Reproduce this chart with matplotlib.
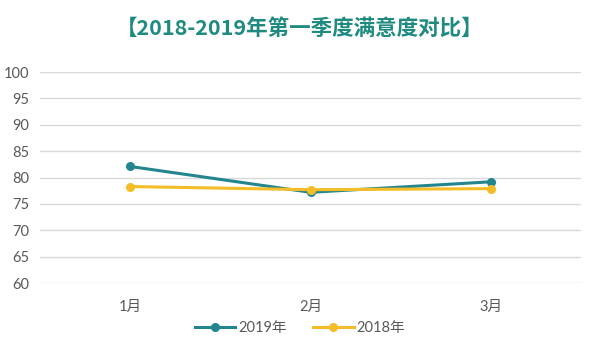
import matplotlib
matplotlib.use('Agg')
import matplotlib.pyplot as plt

plt.rcParams['font.family'] = ['Lato', 'Noto Sans CJK SC', 'DejaVu Sans']

months = ['1月', '2月', '3月']
y2019 = [82.1, 77.2, 79.2]
y2018 = [78.3, 77.7, 77.9]
yticks = [60, 65, 70, 75, 80, 85, 90, 95, 100]

teal = '#23868f'
gold = '#f4bd27'
grey = '#595959'

fig = plt.figure(figsize=(6, 3.53), dpi=100)
ax = fig.add_axes([0.0667, 0.198, 0.902, 0.598])

x = range(len(months))
ax.plot(x, y2019, color=teal, lw=2.2, marker='o', ms=5.5, label='2019年', zorder=3)
ax.plot(x, y2018, color=gold, lw=2.2, marker='o', ms=5.5, label='2018年', zorder=3)

ax.set_xlim(-0.5, 2.5)
ax.set_ylim(60, 100)
ax.set_yticks(yticks)
ax.set_xticks(list(x))
ax.set_xticklabels(months)
ax.grid(axis='y', color='#d9d9d9', lw=1)
ax.set_axisbelow(True)
for s in ax.spines.values():
    s.set_visible(False)
ax.tick_params(length=0, colors=grey, labelsize=10.5)
ax.tick_params(axis='x', pad=12)
ax.tick_params(axis='y', pad=8)

fig.text(0.5, 0.918, '【2018-2019年第一季度满意度对比】', ha='center', va='center',
         fontsize=15.5, fontweight='bold', color='#1f8a80',
         family=['Noto Sans CJK SC', 'DejaVu Sans'])

leg = fig.legend(loc='center', bbox_to_anchor=(0.5, 0.07), ncol=2, frameon=False,
                 fontsize=10.5, handlelength=2.8, columnspacing=1.8, handletextpad=0.2)
for t in leg.get_texts():
    t.set_color(grey)

fig.savefig('out.png', dpi=100)
